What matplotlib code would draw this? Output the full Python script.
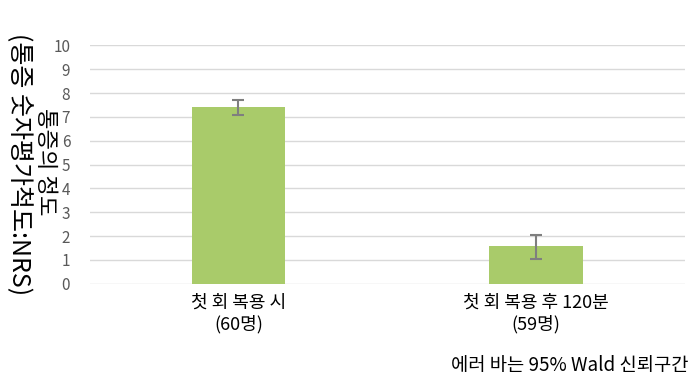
import matplotlib
matplotlib.use("Agg")
import matplotlib.pyplot as plt
import numpy as np

plt.rcParams['font.family'] = ['Noto Sans CJK KR', 'DejaVu Sans']

categories = ["첫 회 복용 시\n(60명)", "첫 회 복용 후 120분\n(59명)"]
values = [7.41, 1.58]
ci_low = [7.09, 1.04]
ci_high = [7.73, 2.06]
yticks = list(range(0, 11))

fig = plt.figure(figsize=(6.89, 3.92), dpi=100)
ax = fig.add_axes([0.130, 0.276, 0.864, 0.608])

x = np.arange(len(categories))
yerr = [np.array(values) - np.array(ci_low), np.array(ci_high) - np.array(values)]
ax.bar(x, values, width=0.315, color="#A9CB6A", zorder=2)
ax.errorbar(x, values, yerr=yerr, fmt="none", ecolor="#7F7F7F", elinewidth=1.5,
            capsize=4.5, capthick=1.5, zorder=3)

ax.set_xlim(-0.5, 1.5)
ax.set_ylim(0, 10)
ax.set_yticks(yticks)
ax.set_yticklabels([str(t) for t in yticks], color="#595959", fontsize=11)
ax.set_xticks(x)
ax.set_xticklabels(categories, fontsize=13, color="#000000", linespacing=1.25)
ax.tick_params(axis="x", length=0, pad=7)
ax.tick_params(axis="y", length=0, pad=14)
ax.grid(axis="y", color="#D9D9D9", linewidth=1, zorder=0)
for s in ax.spines.values():
    s.set_visible(False)

fig.text(0.027, 0.582, "(통증 숫자평가척도:NRS)", rotation=270, ha="center", va="center",
         fontsize=18, color="#000000", weight="medium")
fig.text(0.066, 0.587, "통증의 정도", rotation=270, ha="center", va="center",
         fontsize=16, color="#000000", weight="medium")
fig.text(0.999, 0.068, "에러 바는 95% Wald 신뢰구간", ha="right", va="center",
         fontsize=13.5, color="#000000")

fig.savefig("out.png", dpi=100)
